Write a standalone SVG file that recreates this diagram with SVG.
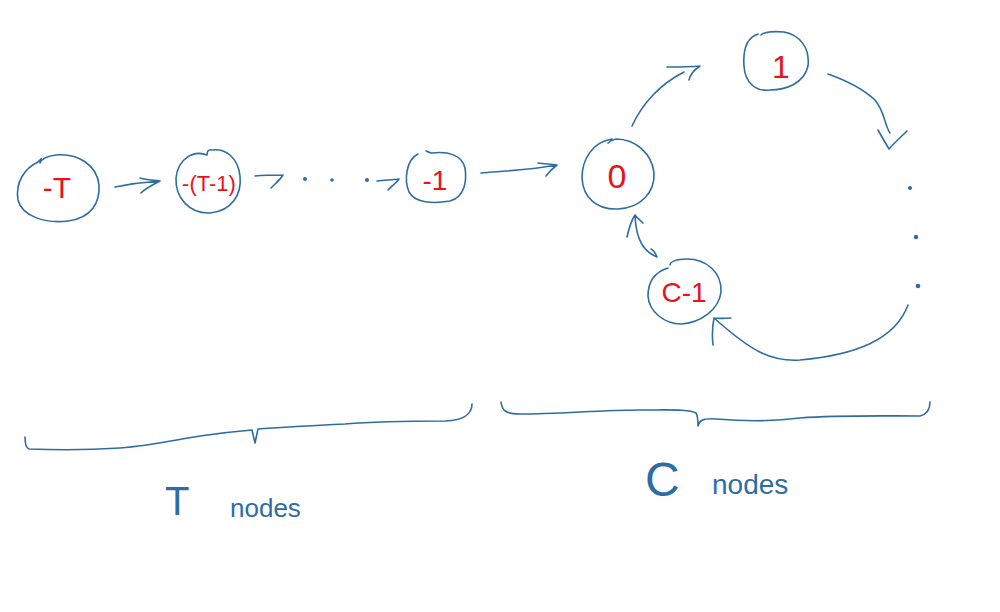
<svg xmlns="http://www.w3.org/2000/svg" width="1000" height="612" viewBox="0 0 1000 612">
<style>
.ink{fill:none;stroke:#2e6da4;stroke-width:1.6;stroke-linecap:round;stroke-linejoin:round}
.lbl{fill:#e8131d;font-family:"Liberation Sans","DejaVu Sans",sans-serif;font-weight:normal}
.cap{fill:#2e6da4;font-family:"Liberation Sans","DejaVu Sans",sans-serif;font-weight:normal}
.dot{fill:#2e6da4}
</style>
<rect width="1000" height="612" fill="#ffffff"/>
<g id="node-T">
<path class="ink" d="M38,162 C25,168 15,182 18,200 C22,216 45,224 68,221 C92,218 100,202 99,185 C97,165 78,153 56,155 C48,156 42,158 40,163 C40,160 44,156 38,162"/>
<text class="lbl" x="57" y="198" font-size="30" text-anchor="middle">-T</text>
</g>
<g id="node-T1">
<path class="ink" d="M207,155 C194,150 178,158 176,178 C175,198 190,214 210,213 C232,211 242,194 240,176 C238,158 226,148 212,150 C208,149 207,152 207,155"/>
<text class="lbl" x="209" y="191" font-size="22" text-anchor="middle">-(T-1)</text>
</g>
<g id="node-m1">
<path class="ink" d="M418,154 C406,160 404,180 409,192 C415,203 433,204 450,201 C465,197 467,180 465,168 C462,155 448,151 432,153 C428,153 428,151 426,151"/>
<text class="lbl" x="435" y="190" font-size="28" text-anchor="middle">-1</text>
</g>
<g id="node-0">
<path class="ink" d="M612,139 C592,142 582,160 582,178 C583,198 597,210 618,209 C641,208 655,192 654,173 C652,154 636,139 616,139 C612,140 609,142 608,143"/>
<text class="lbl" x="617" y="188" font-size="34" text-anchor="middle">0</text>
</g>
<g id="node-1">
<path class="ink" d="M758,34 C746,38 743,52 744,66 C745,82 755,92 770,90 C785,90 804,84 808,66 C810,48 800,35 784,32 C774,31 764,32 761,35"/>
<text class="lbl" x="781" y="78" font-size="32" text-anchor="middle">1</text>
</g>
<g id="node-C1">
<path class="ink" d="M668,268 C655,272 648,282 648,296 C649,312 665,324 681,324 C700,323 719,310 721,292 C722,272 706,259 687,259 C676,259 670,262 670,265"/>
<text class="lbl" x="684" y="302" font-size="28" text-anchor="middle">C-1</text>
</g>
<g id="connectors">
<path class="ink" d="M115,187 C130,184 145,182 160,181 M160,181 C152,180 146,180 140,178 M160,181 C154,184 146,188 141,193"/>
<path class="ink" d="M255,176 C265,175 275,175 283,175 M283,175 C280,180 275,184 271,188"/>
<circle class="dot" cx="305" cy="179" r="2"/>
<circle class="dot" cx="332" cy="180" r="1.8"/>
<circle class="dot" cx="367" cy="180" r="2"/>
<path class="ink" d="M377,181 C385,180 392,180 399,179 M399,179 C396,183 392,186 388,190"/>
<path class="ink" d="M481,173 C505,171 530,170 557,165 M557,165 C553,168 549,172 546,176 M557,165 C549,164 544,164 538,163"/>
<path class="ink" d="M632,126 C642,104 660,84 684,72 M700,66 C690,67 678,67 667,67 M700,66 C694,70 690,75 689,80"/>
<path class="ink" d="M828,74 C845,80 862,88 875,100 C885,112 884,124 890,133 M878,130 C882,137 886,144 889,149 M889,149 C894,143 901,137 907,131"/>
<circle class="dot" cx="910" cy="188" r="2"/>
<circle class="dot" cx="916" cy="237" r="2.2"/>
<circle class="dot" cx="918" cy="286" r="2.3"/>
<path class="ink" d="M908,305 C895,340 855,355 800,360 C770,362 750,350 714,318 M714,318 C712,328 712,336 713,345 M714,318 C721,319 725,318 731,318"/>
<path class="ink" d="M657,257 C645,252 636,242 635,215 M635,215 C631,221 629,228 627,237 M635,215 C637,218 640,220 643,223 M657,257 C655,252 653,250 651,249"/>
<path class="ink" d="M25,437 C25,442 26,448 29,449 C55,450 90,450 120,448 C150,446 175,440 200,436 C220,433 240,431 252,430 L255,443 L258,429 C290,427 320,425 345,424 C380,421 410,421 445,421 C465,420 472,414 472,404"/>
<path class="ink" d="M501,402 C502,410 505,414 520,414 C560,414 600,410 640,410 C670,410 690,409 696,413 C698,416 698,421 698,426 M698,426 C699,421 702,418 716,419 C740,421 770,422 800,418 C840,415 880,416 920,416 C928,414 930,408 930,402"/>
</g>
<g id="captions">
<text class="cap" x="165" y="515" font-size="40">T</text>
<text class="cap" x="230" y="517" font-size="26">nodes</text>
<text class="cap" x="645" y="496" font-size="48">C</text>
<text class="cap" x="712" y="494" font-size="28">nodes</text>
</g>
</svg>
